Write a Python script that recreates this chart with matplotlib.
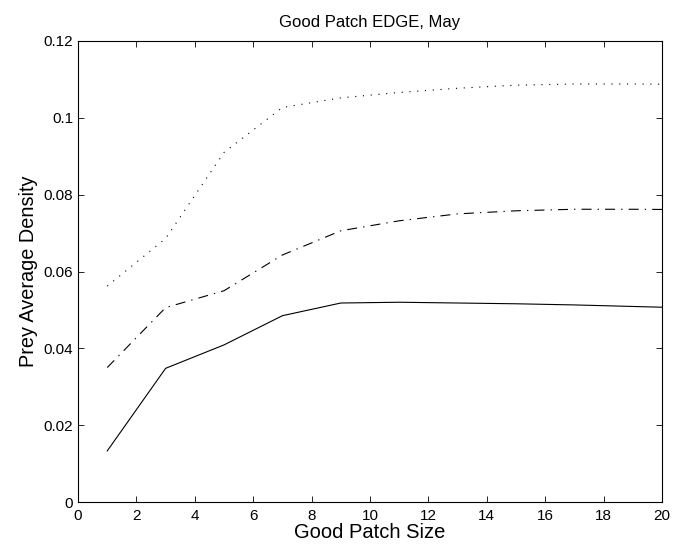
import numpy as np
import matplotlib
matplotlib.use('Agg')
import matplotlib.pyplot as plt

plt.rcParams['font.family'] = ['Liberation Sans', 'DejaVu Sans']

# datos
tamano = [1, 3, 5, 7, 9, 11, 13, 15, 17, 19, 21]
densidad_solida = [0.0133, 0.0348, 0.0409, 0.0485, 0.0518, 0.0520, 0.0518, 0.0516, 0.0513, 0.0509, 0.0505]
densidad_guion = [0.0350, 0.0506, 0.0550, 0.0643, 0.0706, 0.0732, 0.0750, 0.0758, 0.0762, 0.0762, 0.0761]
densidad_punto = [0.0562, 0.0686, 0.0910, 0.1027, 0.1052, 0.1066, 0.1077, 0.1085, 0.1088, 0.1088, 0.1087]

fig = plt.figure(figsize=(6.75, 5.51), dpi=100)
ax = fig.add_axes([0.1156, 0.0889, 0.8652, 0.8367])

lw = 0.8
ax.plot(tamano, densidad_punto, color='k', linewidth=lw, linestyle=(0, (1, 6)))
ax.plot(tamano, densidad_guion, color='k', linewidth=lw, linestyle=(0, (9, 5.5, 1.2, 5.5)))
ax.plot(tamano, densidad_solida, color='k', linewidth=lw, linestyle='-')

ax.set_xlim(0, 20)
ax.set_ylim(0, 0.12)
ax.set_xticks(np.arange(0, 21, 2))
ax.set_yticks(np.arange(0, 0.121, 0.02))
ax.set_yticklabels(['0', '0.02', '0.04', '0.06', '0.08', '0.1', '0.12'])
ax.tick_params(direction='in', top=True, right=True, labelsize=11, length=4.5, width=0.6)
ax.tick_params(axis='x', pad=5)
for s in ax.spines.values():
    s.set_linewidth(0.8)

ax.set_title('Good Patch EDGE, May', fontsize=12, pad=10)
ax.set_xlabel('Good Patch Size', fontsize=14.5, labelpad=0)
ax.set_ylabel('Prey Average Density', fontsize=14.3, labelpad=4)

plt.savefig('out.png', dpi=100)
